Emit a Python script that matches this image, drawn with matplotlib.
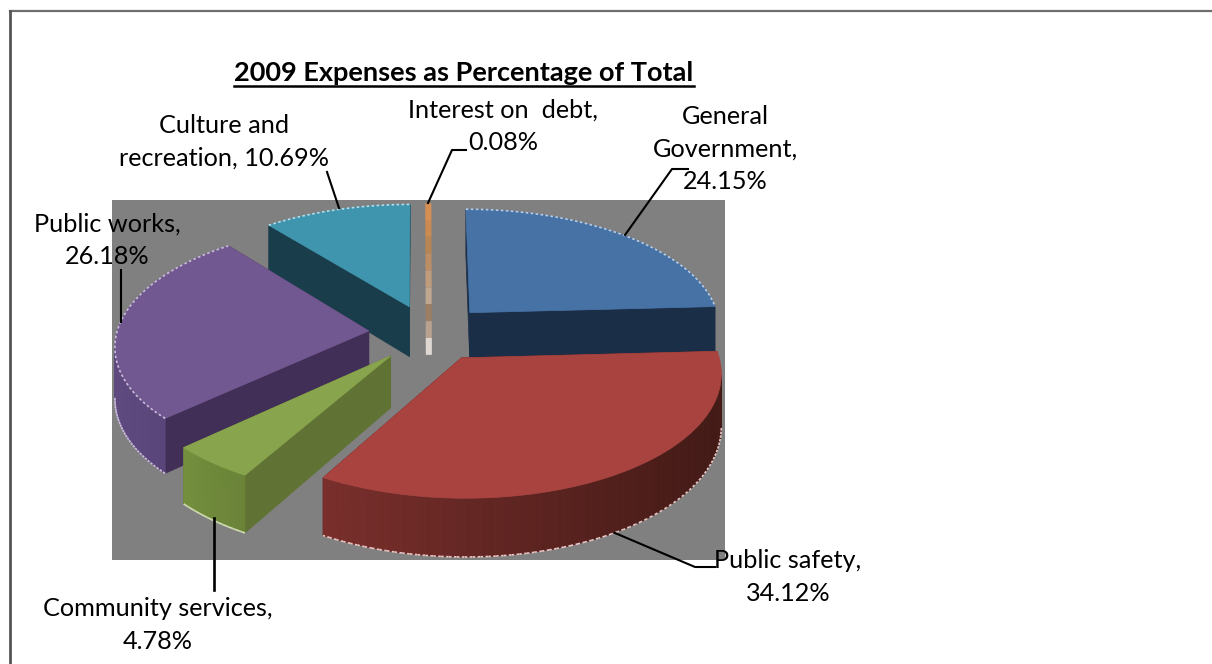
from matplotlib import pyplot as plt
from matplotlib.patches import Polygon, Rectangle
from matplotlib.colors import to_rgb
import numpy as np

# Expense data, clockwise from the top of the pie
categories = ['General Government', 'Public safety', 'Community services',
              'Public works', 'Culture and recreation', 'Interest on  debt']
percentages = [24.15, 34.12, 4.78, 26.18, 10.69, 0.08]
label_templates = ['General\nGovernment,\n{:.2f}%', 'Public safety,\n{:.2f}%',
                   'Community services,\n{:.2f}%', 'Public works,\n{:.2f}%',
                   'Culture and\nrecreation, {:.2f}%', 'Interest on  debt,\n{:.2f}%']

plt.rcParams['font.family'] = ['Lato', 'DejaVu Sans']

# 3D look of the pie
CX, CY = 429, 333
RX, RY = 252, 119
PERSP = 0.11
EXPLODE = 0.24
DEPTH = 51

top_colors = ['#4672a6', '#a84340', '#88a54d', '#725890', '#4095ae']
cut_colors = ['#1b2e48', '#5a2320', '#617334', '#422f57', '#193d4a']
side_colors = [('#1b2e48', '#1b2e48'), ('#7a2f2c', '#431a16'), ('#748f3e', '#6a8438'),
               ('#5f4a80', '#543f72'), ('#193d4a', '#193d4a')]
rim_colors = ['#b9cde6', '#e8c9c7', '#dfeac4', '#c9bdd9', '#b8dde8']
strip_colors = ['#d68f52', '#cb8a52', '#b88555', '#bb8e66', '#c09c7c',
                '#bfa68e', '#9b7e63', '#b8a18e', '#dfd8d2']


def project(theta, radius, mid, down=0.0):
    # pie-plane point (angle clockwise from the top) to pixel position
    px = radius * np.sin(theta) + EXPLODE * np.sin(mid)
    py = radius * np.cos(theta) + EXPLODE * np.cos(mid)
    s = 1 / (1 + PERSP * py)
    return CX + RX * px * s, CY - RY * py * s + down * DEPTH * s


def mix(c1, c2, t):
    a, b = np.array(to_rgb(c1)), np.array(to_rgb(c2))
    return tuple(a + (b - a) * t)


def draw_slice(ax, idx, start, end):
    mid = (start + end) / 2
    thetas = np.linspace(start, end, 80)
    arc_top = [project(t, 1, mid) for t in thetas]
    arc_bot = [project(t, 1, mid, 1) for t in thetas]
    apex_top = project(0, 0, mid)
    apex_bot = project(0, 0, mid, 1)

    # cut faces, the one further back first
    cuts = sorted([start, end], key=lambda t: -np.cos(t))
    for t in cuts:
        quad = [apex_top, project(t, 1, mid), project(t, 1, mid, 1), apex_bot]
        ax.add_patch(Polygon(quad, closed=True, fc=cut_colors[idx], ec=cut_colors[idx], lw=0.5))

    # outer wall, only the part turned towards the viewer
    xs = np.array([p[0] for p in arc_top])
    for i in range(len(thetas) - 1):
        if arc_top[i + 1][0] < arc_top[i][0]:
            t = (arc_top[i][0] - xs.min()) / max(xs.max() - xs.min(), 1)
            col = mix(side_colors[idx][0], side_colors[idx][1], t)
            quad = [arc_top[i], arc_top[i + 1], arc_bot[i + 1], arc_bot[i]]
            ax.add_patch(Polygon(quad, closed=True, fc=col, ec=col, lw=0.5))
            ax.plot([arc_bot[i][0], arc_bot[i + 1][0]], [arc_bot[i][1], arc_bot[i + 1][1]],
                    color=rim_colors[idx], lw=1.2, ls=(0, (1.5, 1.5)), zorder=3)

    ax.add_patch(Polygon([apex_top] + arc_top, closed=True, fc=top_colors[idx], ec=top_colors[idx], lw=0.5))
    # pale speckled rim along the back arcs
    if np.cos(mid) > -0.3:
        ax.plot([p[0] for p in arc_top], [p[1] for p in arc_top],
                color=rim_colors[idx], lw=1.2, ls=(0, (1.5, 1.5)), zorder=3)


def draw_thin_slice(ax, start, end):
    # the sliver is too thin to fill, so it is stroked in bands
    mid = (start + end) / 2
    x0, y0 = project(mid, 1, mid)
    x1, y1 = project(mid, 0, mid, 1)
    edges = np.linspace(0, 1, len(strip_colors) + 1)
    for i, col in enumerate(strip_colors):
        ax.plot([x0 + (x1 - x0) * edges[i], x0 + (x1 - x0) * edges[i + 1]],
                [y0 + (y1 - y0) * edges[i], y0 + (y1 - y0) * edges[i + 1]],
                color=col, lw=4.4, solid_capstyle='butt', zorder=3)


fig = plt.figure(figsize=(12.12, 6.64), dpi=100)
ax = fig.add_axes([0, 0, 1, 1])
ax.set_xlim(0, 1212)
ax.set_ylim(664, 0)
ax.axis('off')

# frame on the top and left
ax.plot([10, 1212], [11, 11], color='#6e6e6e', lw=1.6)
ax.plot([10, 10], [11, 664], color='#555555', lw=2)

ax.add_patch(Rectangle((112, 200), 613, 360, fc='#808080', ec='none'))

# slice angles, clockwise from the top
fracs = np.array(percentages) / sum(percentages) * 2 * np.pi
ends = np.cumsum(fracs)
starts = ends - fracs

# back to front
for i in [4, 5, 0, 3, 2, 1]:
    if percentages[i] < 1:
        draw_thin_slice(ax, starts[i], ends[i])
    else:
        draw_slice(ax, i, starts[i], ends[i])

# leader lines
leaders = [
    ([327, 339], [172, 208], 1.5),
    ([466, 452, 428], [150, 150, 203], 1.5),
    ([688, 672, 625], [169, 169, 235], 1.5),
    ([121, 121], [270, 322], 1.5),
    ([214, 214], [518, 590], 1.9),
    ([615, 695, 715], [533, 567, 567], 1.5),
]
for xs, ys, width in leaders:
    ax.plot(xs, ys, color='black', lw=width, zorder=4)

# labels
label_pos = [(725, 149), (788, 577), (158, 625), (107, 240), (224, 142), (503, 126)]
for i, (x, y) in enumerate(label_pos):
    ax.text(x, y, label_templates[i].format(percentages[i]),
            ha='center', va='center', fontsize=18.2, linespacing=1.48, color='black', zorder=5)

title = ax.text(464, 73, '2009 Expenses as Percentage of Total', ha='center', va='center',
                fontsize=19.5, fontweight='bold', color='black')
fig.canvas.draw()
bb = title.get_window_extent(fig.canvas.get_renderer())
ax.plot([bb.x0, bb.x1], [86, 86], color='black', lw=1.8)

plt.savefig('out.png', dpi=100)
